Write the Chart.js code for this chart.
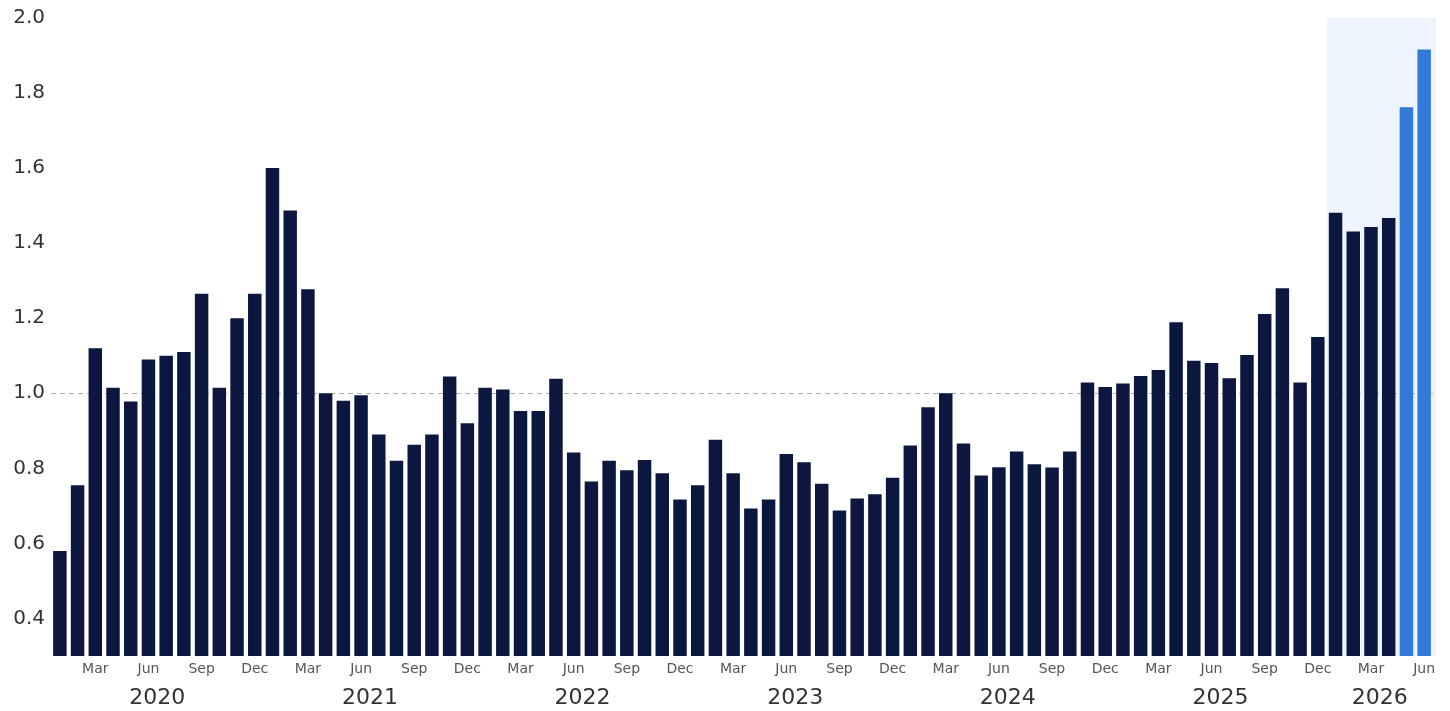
<!DOCTYPE html>
<html lang="en">
<head>
    <meta charset="UTF-8">
    <title>Monthly ratio, 2020-2026</title>
    <style>
        body { margin: 0; background: #fff; }
        #wrap { width: 1450px; height: 711px; }
    </style>
    <script src="https://cdn.jsdelivr.net/npm/chart.js"></script>
</head>
<body>
    <div id="wrap"><canvas id="barChart"></canvas></div>

    <script>
        // months Jan 2020 .. Jun 2026
        const monthNames = ['Jan','Feb','Mar','Apr','May','Jun','Jul','Aug','Sep','Oct','Nov','Dec'];
        const years = [2020, 2021, 2022, 2023, 2024, 2025, 2026];

        const v2020 = [0.58, 0.755, 1.12, 1.015, 0.978, 1.09, 1.10, 1.11, 1.265, 1.015, 1.20, 1.265];
        const v2021 = [1.60, 1.487, 1.277, 1.0, 0.98, 0.995, 0.89, 0.82, 0.863, 0.89, 1.045, 0.92];
        const v2022 = [1.015, 1.01, 0.953, 0.953, 1.039, 0.842, 0.765, 0.82, 0.795, 0.822, 0.787, 0.717];
        const v2023 = [0.755, 0.876, 0.787, 0.693, 0.717, 0.838, 0.816, 0.759, 0.688, 0.72, 0.731, 0.775];
        const v2024 = [0.861, 0.963, 1.0, 0.866, 0.781, 0.803, 0.845, 0.811, 0.802, 0.845, 1.029, 1.017];
        const v2025 = [1.026, 1.046, 1.062, 1.189, 1.087, 1.081, 1.04, 1.102, 1.211, 1.28, 1.029, 1.15];
        const v2026 = [1.481, 1.431, 1.443, 1.467, 1.762, 1.916];

        const yTicks = [0.4, 0.6, 0.8, 1.0, 1.2, 1.4, 1.6, 1.8, 2.0];
        const shownMonths = ['Mar', 'Jun', 'Sep', 'Dec'];
        const highlightFrom = '2026-Jan';   // shaded band start
        const lightFrom = '2026-May';       // bars in lighter blue

        const seriesByYear = [v2020, v2021, v2022, v2023, v2024, v2025, v2026];
        const labels = [];
        const values = [];
        seriesByYear.forEach((arr, i) => {
            arr.forEach((v, m) => {
                labels.push(years[i] + '-' + monthNames[m]);
                values.push(v);
            });
        });

        const darkBar = '#0c1740';
        const lightBar = '#3279d8';
        const lightIdx = labels.indexOf(lightFrom);
        const colors = labels.map((l, i) => i >= lightIdx ? lightBar : darkBar);

        // shaded band behind the last months
        const shadePlugin = {
            id: 'shade',
            beforeDraw(chart) {
                const x = chart.scales.x;
                const area = chart.chartArea;
                const i0 = labels.indexOf(highlightFrom);
                const step = x.getPixelForValue(1) - x.getPixelForValue(0);
                const left = x.getPixelForValue(i0) - step / 2;
                const ctx = chart.ctx;
                ctx.save();
                ctx.fillStyle = '#eef4fd';
                ctx.fillRect(left, area.top, area.right + 3 - left, area.bottom - area.top);
                ctx.restore();
            }
        };

        // year labels under the month ticks
        const yearPlugin = {
            id: 'years',
            afterDraw(chart) {
                const x = chart.scales.x;
                const ctx = chart.ctx;
                ctx.save();
                ctx.font = '22px "DejaVu Sans"';
                ctx.fillStyle = '#333';
                ctx.textAlign = 'center';
                ctx.textBaseline = 'middle';
                years.forEach(y => {
                    const idx = labels.map((l, i) => l.startsWith(y + '-') ? i : -1).filter(i => i >= 0);
                    const mid = (x.getPixelForValue(idx[0]) + x.getPixelForValue(idx[idx.length - 1])) / 2;
                    ctx.fillText(String(y), mid, chart.chartArea.bottom + 42);
                });
                ctx.restore();
            }
        };

        new Chart(document.getElementById('barChart'), {
            type: 'bar',
            data: {
                labels: labels,
                datasets: [{
                    data: values,
                    backgroundColor: colors,
                    barPercentage: 0.76,
                    categoryPercentage: 1.0
                }]
            },
            options: {
                responsive: true,
                maintainAspectRatio: false,
                animation: false,
                layout: { padding: { top: 17, right: 17, left: 0, bottom: 0 } },
                plugins: {
                    legend: { display: false },
                    tooltip: { enabled: false }
                },
                scales: {
                    x: {
                        grid: { display: false, drawTicks: false },
                        border: { display: false },
                        afterFit(s) { s.height = 55; },
                        ticks: {
                            autoSkip: false,
                            maxRotation: 0,
                            padding: 5,
                            color: '#555',
                            font: { family: 'DejaVu Sans', size: 14 },
                            callback(val) {
                                const m = labels[val].split('-')[1];
                                return shownMonths.includes(m) ? m : '';
                            }
                        }
                    },
                    y: {
                        min: 0.3,
                        max: 2.0,
                        afterFit(s) { s.width = 51; },
                        afterBuildTicks(s) { s.ticks = yTicks.map(v => ({ value: v })); },
                        border: { display: false, dash: [5, 4] },
                        grid: {
                            drawTicks: false,
                            lineWidth: 1,
                            color: ctx => (ctx.tick && Math.abs(ctx.tick.value - 1.0) < 1e-9) ? '#b0b0b0' : 'rgba(0,0,0,0)'
                        },
                        ticks: {
                            padding: 6,
                            color: '#333',
                            font: { family: 'DejaVu Sans', size: 20 },
                            callback: v => Number(v).toFixed(1)
                        }
                    }
                }
            },
            plugins: [shadePlugin, yearPlugin]
        });
    </script>
</body>
</html>
